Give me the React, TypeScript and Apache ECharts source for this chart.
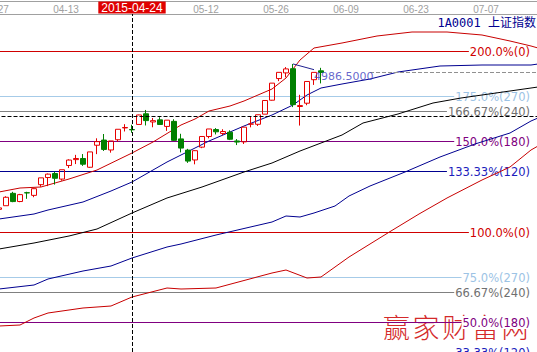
import React, { useEffect, useRef } from 'react';
import * as echarts from 'echarts';

// ---------- categories (trading days + projected weekdays) ----------
const dates = [
  '2015-03-27', '2015-03-30', '2015-03-31', '2015-04-01', '2015-04-02', '2015-04-03', '2015-04-07', '2015-04-08',
  '2015-04-09', '2015-04-10', '2015-04-13', '2015-04-14', '2015-04-15', '2015-04-16', '2015-04-17', '2015-04-20',
  '2015-04-21', '2015-04-22', '2015-04-23', '2015-04-24', '2015-04-27', '2015-04-28', '2015-04-29', '2015-04-30',
  '2015-05-04', '2015-05-05', '2015-05-06', '2015-05-07', '2015-05-08', '2015-05-11', '2015-05-12', '2015-05-13',
  '2015-05-14', '2015-05-15', '2015-05-18', '2015-05-19', '2015-05-20', '2015-05-21', '2015-05-22', '2015-05-25',
  '2015-05-26', '2015-05-27', '2015-05-28', '2015-05-29', '2015-06-01', '2015-06-02', '2015-06-03', '2015-06-04',
  '2015-06-05', '2015-06-08', '2015-06-09', '2015-06-10', '2015-06-11', '2015-06-12', '2015-06-15', '2015-06-16',
  '2015-06-17', '2015-06-18', '2015-06-19', '2015-06-22', '2015-06-23', '2015-06-24', '2015-06-25', '2015-06-26',
  '2015-06-29', '2015-06-30', '2015-07-01', '2015-07-02', '2015-07-03', '2015-07-06', '2015-07-07', '2015-07-08',
  '2015-07-09', '2015-07-10', '2015-07-13', '2015-07-14', '2015-07-15', '2015-07-16',
];

// ---------- candles (first 47 categories) ----------
const opens = [3678.0, 3710.62, 3822.08, 3748.34, 3827.61, 3803.68, 3899.85, 3964.29, 4000.35, 3950.2, 4072.72, 4125.49, 4135.58, 4056.63, 4254.89, 4301.35, 4212.19, 4304.28, 4410.68, 4395.87, 4441.93, 4538.09, 4464.32, 4483.21, 4424.19, 4469.75, 4311.94, 4210.95, 4122.41, 4237.85, 4333.56, 4395.96, 4361.12, 4372.12, 4293.48, 4285.22, 4444.91, 4443.41, 4534.54, 4660.08, 4854.85, 4905.97, 4943.74, 4603.47, 4633.1, 4844.7, 4924.7];
const closes = [3691.1, 3786.57, 3747.9, 3810.29, 3825.78, 3863.93, 3961.38, 3994.81, 3957.53, 4034.31, 4121.71, 4135.57, 4084.16, 4194.82, 4287.3, 4217.08, 4293.62, 4398.49, 4414.51, 4393.69, 4527.4, 4476.62, 4476.21, 4441.66, 4480.46, 4298.71, 4229.27, 4112.21, 4205.92, 4333.58, 4401.22, 4375.76, 4378.31, 4308.69, 4283.49, 4417.55, 4446.29, 4529.42, 4657.6, 4813.8, 4910.9, 4941.71, 4620.27, 4611.74, 4828.74, 4910.53, 4909.98];
const lows = [3656.0, 3710.62, 3742.21, 3742.2, 3772.64, 3787.07, 3880.87, 3886.87, 3900.63, 3935.82, 4049.47, 4085.34, 4068.98, 4051.02, 4174.81, 4203.41, 4187.91, 4287.07, 4378.68, 4367.06, 4441.93, 4432.9, 4416.53, 4441.65, 4383.71, 4292.65, 4190.41, 4095.86, 4083.12, 4228.35, 4317.05, 4352.06, 4345.53, 4301.19, 4256.42, 4266.14, 4416.02, 4428.33, 4534.54, 4656.58, 4831.74, 4866.49, 4598.05, 4431.86, 4615.09, 4797.84, 4811.39];
const highs = [3710.0, 3795.94, 3835.57, 3817.08, 3835.85, 3866.86, 3961.38, 4000.33, 4016.04, 4034.31, 4128.07, 4168.35, 4175.49, 4194.82, 4317.22, 4356.0, 4293.62, 4398.5, 4444.41, 4439.33, 4529.73, 4572.39, 4499.89, 4507.04, 4480.46, 4489.02, 4358.07, 4222.3, 4209.9, 4333.58, 4401.22, 4409.25, 4399.0, 4388.95, 4310.05, 4417.55, 4510.93, 4529.52, 4658.27, 4813.8, 4911.18, 4958.16, 4986.5, 4708.89, 4828.74, 4910.53, 4951.53];

// ---------- projected curves (category index, price) ----------
const upperRedIdx = [0, 3, 6, 10, 14, 19, 22, 26, 28, 30, 33, 35, 39, 41, 43, 45, 49, 54, 59, 64, 69, 73, 76, 77];
const upperRedVal = [3834, 3870, 3879, 3951, 4032, 4185, 4284, 4437, 4491, 4563, 4608, 4653, 4761, 4860, 5022, 5130, 5175, 5238, 5274, 5274, 5247, 5193, 5148, 5130];
const upperBlueIdx = [0, 5, 7, 12, 16, 19, 24, 26, 30, 35, 39, 42, 44, 46, 49, 53, 57, 63, 69, 76, 77];
const upperBlueVal = [3591, 3636, 3672, 3744, 3843, 3924, 4104, 4167, 4293, 4428, 4527, 4617, 4707, 4770, 4806, 4851, 4914, 4968, 4977, 4977, 4986];
const blackIdx = [0, 5, 10, 14, 19, 24, 29, 35, 39, 43, 49, 52, 57, 62, 66, 71, 76, 77];
const blackVal = [3321, 3375, 3438, 3501, 3645, 3780, 3879, 4014, 4095, 4203, 4347, 4455, 4536, 4635, 4680, 4725, 4770, 4779];
const lowerBlueIdx = [0, 5, 7, 12, 16, 19, 24, 26, 31, 39, 41, 43, 45, 48, 50, 53, 58, 63, 68, 73, 76, 77];
const lowerBlueVal = [2961, 2997, 3051, 3123, 3168, 3240, 3339, 3366, 3447, 3564, 3618, 3609, 3645, 3708, 3798, 3888, 4014, 4149, 4266, 4365, 4473, 4500];
const lowerRedIdx = [0, 3, 5, 7, 12, 16, 19, 24, 26, 31, 39, 41, 44, 46, 50, 56, 60, 64, 69, 73, 76, 77];
const lowerRedVal = [2628, 2637, 2700, 2745, 2790, 2808, 2889, 2970, 2961, 2970, 3105, 3132, 3060, 3069, 3249, 3483, 3636, 3780, 3942, 4059, 4212, 4248];

// ---------- percentage levels ----------
const pctLevels = [200, 175, 166.67, 150, 133.33, 100, 75, 66.67, 50, 33.33];
const pctLabels = ['200.0%(0)', '175.0%(270)', '166.67%(240)', '150.0%(180)', '133.33%(120)', '100.0%(0)', '75.0%(270)', '66.67%(240)', '50.0%(180)', '33.33%(120)'];

// ---------- annotations ----------
const crossDate = '2015-04-24';
const crossPrice = 4518;
const maxHighDate = '2015-05-28';
const maxHigh = 4986.5;
const maxLabelDate = '2015-06-02';
const maxLabelPrice = 4935;
const maxTextPrice = 4878;
const lastClose = 4909.98;
const lastLineStart = '2015-06-12';
const title = '1A0001 上证指数';
const watermark = '赢家财富网';

// styles
const lineColors = ['#d00000', '#a6cbe8', '#808080', '#800080', '#000090'];
const textColors = ['#d00000', '#9cc3e5', '#707070', '#800080', '#1c1cbc'];

const pairs = (idx: number[], val: number[]) => idx.map((i, k) => [dates[i], val[k]]);

export default function App() {
  const ref = useRef<HTMLDivElement>(null);
  useEffect(() => {
    const chart = echarts.init(ref.current!, undefined, { renderer: 'svg' });
    const N = dates.length;
    const candleData = opens.map((o, i) => [o, closes[i], lows[i], highs[i]]);
    const curve = (name: string, data: any[], color: string) => ({
      name, type: 'line', data, xAxisIndex: 0, yAxisIndex: 0, showSymbol: false, symbol: 'none',
      silent: true, z: 3, lineStyle: { color, width: 1 },
    });
    const dash = { color: '#000', type: [4, 2], width: 1 };
    const option: any = {
      animation: false,
      backgroundColor: '#fff',
      grid: { left: -4.5, top: 14, width: 7 * N, height: 356, outerBoundsMode: 'none', containLabel: false },
      xAxis: {
        type: 'category', data: dates, position: 'top', boundaryGap: true,
        axisLine: { show: true, lineStyle: { color: '#a0a0a0', width: 1 } },
        axisTick: { show: false },
        splitLine: { show: false },
        axisLabel: {
          interval: (i: number) => (i % 10 === 0 && i !== 20) || i === 19,
          margin: 0,
          formatter: (v: string) => (v === crossDate ? `{hl|${v}}` : `{d|${v.slice(5)}}`),
          rich: {
            d: { color: '#a0a0a0', fontSize: 10, fontFamily: '"Liberation Sans Narrow", "Liberation Sans", sans-serif', lineHeight: 10, padding: [0, 6, 0, 0] },
            hl: { color: '#fff', backgroundColor: '#e00000', fontSize: 12, fontFamily: '"Liberation Sans Narrow", "Liberation Sans", sans-serif', lineHeight: 13, padding: [0, 3, 0, 3] },
          },
        },
      },
      yAxis: [
        { type: 'value', min: 2232, max: 5436, show: false, splitLine: { show: false } },
        { type: 'value', min: 23.59, max: 220.28, show: false, splitLine: { show: false } },
      ],
      graphic: [
        { type: 'line', shape: { x1: 0, y1: 1.5, x2: 537, y2: 1.5 }, style: { stroke: '#a0a0a0', lineWidth: 1 }, silent: true },
        { type: 'text', x: 536, y: 23, style: { text: title, align: 'right', verticalAlign: 'middle', fill: '#000090', font: '12px "DejaVu Sans Mono", "Noto Sans CJK SC"' }, silent: true },
        {
          type: 'group', x: 383, y: 313, silent: true,
          children: watermark.split('').map((ch, k) => ({
            type: 'text', x: k * 29.6, y: 0,
            style: { text: ch, fill: '#d42a2a', font: '300 27px "Noto Sans CJK SC"', verticalAlign: 'top' },
          })),
        },
      ],
      series: [
        {
          type: 'custom', xAxisIndex: 0, yAxisIndex: 1, silent: true, z: 1,
          data: pctLevels.map((v) => [0, v]),
          renderItem: (params: any, api: any) => {
            const i = params.dataIndex;
            const y = Math.round(api.coord([0, api.value(1)])[1]) + 0.5;
            return {
              type: 'group',
              children: [
                { type: 'line', shape: { x1: 0, y1: y, x2: 537, y2: y }, style: { stroke: lineColors[i % 5], lineWidth: 1 } },
                {
                  type: 'text',
                  style: {
                    text: pctLabels[i], x: 537, y, align: 'right', verticalAlign: 'middle',
                    fill: textColors[i % 5], font: '11.5px "DejaVu Sans"', backgroundColor: '#fff', padding: [1, 7, 0, 1],
                  },
                },
              ],
            };
          },
        },
        curve('upperRed', pairs(upperRedIdx, upperRedVal), '#c80000'),
        curve('upperBlue', pairs(upperBlueIdx, upperBlueVal), '#000090'),
        curve('black', pairs(blackIdx, blackVal), '#000000'),
        curve('lowerBlue', pairs(lowerBlueIdx, lowerBlueVal), '#000090'),
        curve('lowerRed', pairs(lowerRedIdx, lowerRedVal), '#c80000'),
        {
          type: 'candlestick', data: candleData, xAxisIndex: 0, yAxisIndex: 0, barWidth: 5, z: 4, silent: true,
          itemStyle: { color: 'transparent', color0: '#008000', borderColor: '#e60000', borderColor0: '#008000', borderWidth: 1 },
          markLine: {
            silent: true, symbol: ['none', 'none'], label: { show: false }, animation: false,
            data: [
              { xAxis: crossDate, lineStyle: dash },
              { yAxis: crossPrice, lineStyle: dash },
              [{ coord: [maxHighDate, maxHigh], lineStyle: { color: '#202090', type: 'solid', width: 1 } }, { coord: [maxLabelDate, maxLabelPrice] }],
              [{ coord: [lastLineStart, lastClose], lineStyle: { color: '#909090', type: [4, 2], width: 1 } }, { coord: [dates[N - 1], lastClose] }],
            ],
          },
        },
        {
          type: 'scatter', xAxisIndex: 0, yAxisIndex: 0, z: 10, silent: true,
          symbolSize: 0, data: [[maxLabelDate, maxTextPrice]],
          label: {
            show: true, position: 'right', distance: 0, formatter: maxHigh.toFixed(4),
            color: '#4040c0', fontSize: 11, fontFamily: '"DejaVu Sans"',
          },
        },
      ],
    };
    chart.setOption(option);
    return () => chart.dispose();
  }, []);
  return (
    <div style={{ position: 'fixed', left: 0, top: 0, width: 537, height: 352, overflow: 'hidden', background: '#fff' }}>
      <div ref={ref} style={{ width: 537, height: 370 }} />
    </div>
  );
}
